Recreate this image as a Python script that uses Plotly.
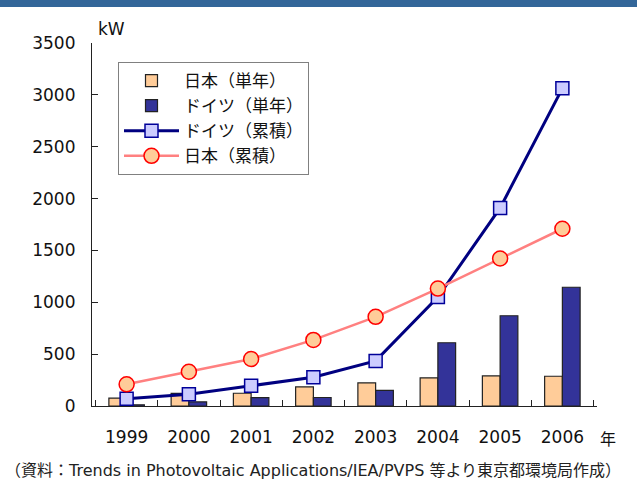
import plotly.graph_objects as go

years = ["1999", "2000", "2001", "2002", "2003", "2004", "2005", "2006"]
japan_annual = [75, 122, 123, 184, 223, 272, 290, 287]
germany_annual = [12, 40, 80, 82, 150, 610, 870, 1145]
germany_cum = [70, 114, 195, 278, 435, 1050, 1910, 3063]
japan_cum = [209, 330, 453, 637, 860, 1132, 1422, 1709]

W, H = 637, 486
L, R, T, B = 92, 40, 43, 80
pw = W - L - R
ph = H - T - B

FONT = "'DejaVu Sans', 'Noto Sans CJK JP', sans-serif"
JFONT = "'Noto Sans CJK JP', Arial, sans-serif"

fig = go.Figure()
fig.add_trace(go.Bar(x=years, y=japan_annual, name="日本（単年）",
                     marker=dict(color="#FFCC99", line=dict(color="#222222", width=1.2))))
fig.add_trace(go.Bar(x=years, y=germany_annual, name="ドイツ（単年）",
                     marker=dict(color="#333399", line=dict(color="#222222", width=1.2))))
fig.add_trace(go.Scatter(x=years, y=germany_cum, name="ドイツ（累積）", mode="lines+markers",
                         line=dict(color="#000080", width=3),
                         marker=dict(symbol="square", size=13, color="#CCCCFF",
                                     line=dict(color="#000099", width=1.5))))
fig.add_trace(go.Scatter(x=years, y=japan_cum, name="日本（累積）", mode="lines+markers",
                         line=dict(color="#FF8080", width=2.5),
                         marker=dict(symbol="circle", size=15, color="#FFCC99",
                                     line=dict(color="#FF0000", width=1.5))))

def px2paper_x(px):
    return (px - L) / pw

def px2paper_y(py):
    return (H - B - py) / ph

fig.update_layout(
    width=W, height=H,
    margin=dict(l=L, r=R, t=T, b=B, autoexpand=False),
    paper_bgcolor="white", plot_bgcolor="white",
    font=dict(family=FONT, size=17, color="#111111"),
    barmode="group", bargap=0.43, bargroupgap=0,
    showlegend=True,
    legend=dict(x=px2paper_x(118), y=px2paper_y(62), xanchor="left", yanchor="top",
                bgcolor="white", bordercolor="#808080", borderwidth=1,
                font=dict(family=JFONT, size=17, color="#111111"),
                traceorder="normal", itemwidth=55, tracegroupgap=0),
    xaxis=dict(type="category", showline=True, linecolor="#222222", linewidth=1.2,
               ticks="inside", tickson="boundaries", ticklen=6, tickcolor="#222222",
               showgrid=False, tickfont=dict(family=FONT, size=17),
               ticklabelstandoff=15, automargin=False),
    yaxis=dict(range=[0, 3500], dtick=500, showline=True, linecolor="#222222", linewidth=1.2,
               ticks="inside", ticklen=6, tickcolor="#222222", showgrid=False,
               zeroline=False, tickfont=dict(family=FONT, size=17),
               ticklabelstandoff=12, automargin=False),
    shapes=[dict(type="rect", xref="paper", yref="paper",
                 x0=px2paper_x(0), x1=px2paper_x(W), y0=px2paper_y(7), y1=px2paper_y(0),
                 fillcolor="#336699", line=dict(width=0), layer="above")],
    annotations=[
        dict(text="kW", xref="paper", yref="paper", x=px2paper_x(96), y=px2paper_y(29),
             xanchor="left", yanchor="middle", showarrow=False,
             font=dict(family=FONT, size=17)),
        dict(text="年", xref="paper", yref="paper", x=px2paper_x(598), y=px2paper_y(438),
             xanchor="left", yanchor="middle", showarrow=False,
             font=dict(family=JFONT, size=16)),
        dict(text="（資料：Trends in Photovoltaic Applications/IEA/PVPS 等より東京都環境局作成）",
             xref="paper", yref="paper", x=px2paper_x(3), y=px2paper_y(470),
             xanchor="left", yanchor="middle", showarrow=False,
             font=dict(family="'DejaVu Sans', 'Noto Sans CJK JP', sans-serif", size=16, color="#222222")),
    ],
)

fig.write_html("out.html", config={"displayModeBar": False},
               post_script="document.body.style.margin='0';document.body.style.overflow='hidden';")
